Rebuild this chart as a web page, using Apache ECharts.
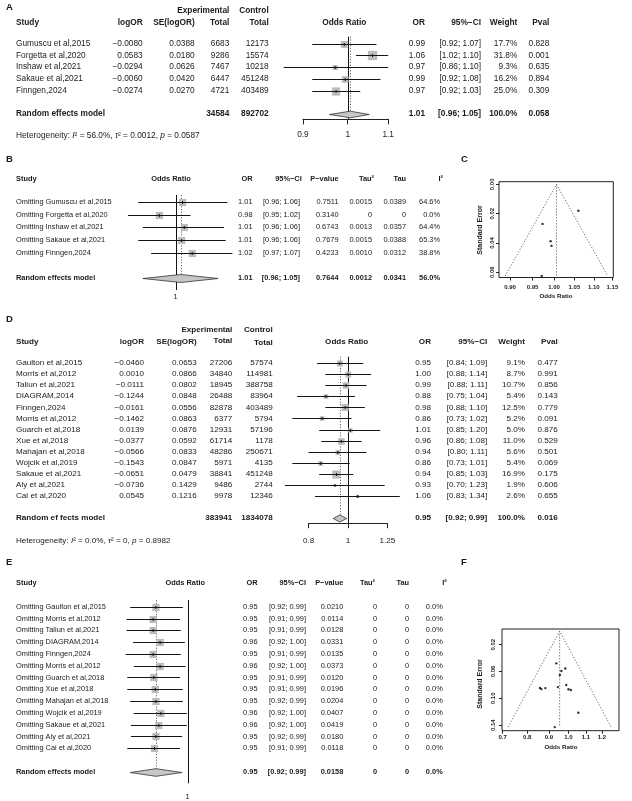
<!DOCTYPE html>
<html><head><meta charset="utf-8">
<script src="https://cdn.jsdelivr.net/npm/echarts@6/dist/echarts.min.js"></script>
<style>html,body{margin:0;padding:0;background:#fff}#c{width:632px;height:801px}</style>
</head><body><div id="c"></div>
<script>
// ---------------- DATA ----------------
// Panel A
const aStudies = ['Gumuscu et al,2015','Forgetta et al,2020','Inshaw et al,2021','Sakaue et al,2021','Finngen,2024'];
const aLogOR = [-0.0080, 0.0583, -0.0294, -0.0060, -0.0274];
const aSE = [0.0388, 0.0180, 0.0626, 0.0420, 0.0270];
const aExpTotal = [6683, 9286, 7467, 6447, 4721];
const aCtrlTotal = [12173, 15574, 10218, 451248, 403489];
const aOR = [0.99, 1.06, 0.97, 0.99, 0.97];
const aLower = [0.92, 1.02, 0.86, 0.92, 0.92];
const aUpper = [1.07, 1.10, 1.10, 1.08, 1.03];
const aWeight = [17.7, 31.8, 9.3, 16.2, 25.0];
const aPval = ['0.828','0.001','0.635','0.894','0.309'];
const aModelTotals = [34584, 892702];
const aModelCI = [1.006, 0.958, 1.052];        // pooled OR, lower, upper (plotted)
const aModelText = ['1.01', '[0.96; 1.05]', '100.0%', '0.058'];
const aTicks = [0.9, 1, 1.1];

// Panel B (leave-one-out of A)
const bOR = [1.008, 0.982, 1.010, 1.007, 1.019];
const bLower = [0.959, 0.948, 0.964, 0.959, 0.973];
const bUpper = [1.060, 1.017, 1.056, 1.058, 1.066];
const bPval = ['0.7511','0.3140','0.6743','0.7679','0.4233'];
const bTau2 = ['0.0015','0','0.0013','0.0015','0.0010'];
const bTau = ['0.0389','0','0.0357','0.0388','0.0312'];
const bI2 = ['64.6%','0.0%','64.4%','65.3%','38.8%'];
const bModel = [1.006, 0.964, 1.049];
const bModelText = ['1.01','[0.96; 1.05]','0.7644','0.0012','0.0341','56.0%'];

// Panel C funnel ticks
const cXTicks = [0.90, 0.95, 1.00, 1.05, 1.10, 1.15];
const cYTicks = [0.00, 0.02, 0.04, 0.06];

// Panel D
const dStudies = ['Gaulton et al,2015','Morris et al,2012','Taliun et al,2021','DIAGRAM,2014','Finngen,2024','Morris et al,2012','Guarch et al,2018','Xue et al,2018','Mahajan et al,2018','Wojcik et al,2019','Sakaue et al,2021','Aly et al,2021','Cai et al,2020'];
const dLogOR = [-0.0460, 0.0010, -0.0111, -0.1244, -0.0161, -0.1462, 0.0139, -0.0377, -0.0566, -0.1543, -0.0651, -0.0736, 0.0545];
const dSE = [0.0653, 0.0866, 0.0802, 0.0848, 0.0556, 0.0863, 0.0876, 0.0592, 0.0833, 0.0847, 0.0479, 0.1429, 0.1216];
const dExpTotal = [27206, 34840, 18945, 26488, 82878, 6377, 12931, 61714, 48286, 5971, 38841, 9486, 9978];
const dCtrlTotal = [57574, 114981, 388758, 83964, 403489, 5794, 57196, 1178, 250671, 4135, 451248, 2744, 12346];
const dOR = ['0.95','1.00','0.99','0.88','0.98','0.86','1.01','0.96','0.94','0.86','0.94','0.93','1.06'];
const dLower = [0.84, 0.88, 0.88, 0.75, 0.88, 0.73, 0.85, 0.86, 0.80, 0.73, 0.85, 0.70, 0.83];
const dUpper = [1.09, 1.14, 1.11, 1.04, 1.10, 1.02, 1.20, 1.08, 1.11, 1.01, 1.03, 1.23, 1.34];
const dWeight = [9.1, 8.7, 10.7, 5.4, 12.5, 5.2, 5.0, 11.0, 5.6, 5.4, 16.9, 1.9, 2.6];
const dPval = ['0.477','0.991','0.856','0.143','0.779','0.091','0.876','0.529','0.501','0.069','0.175','0.606','0.655'];
const dModelTotals = [383941, 1834078];
const dModelCI = [0.954, 0.920, 0.993];
const dModelText = ['0.95','[0.92; 0.99]','100.0%','0.016'];
const dTicks = [0.8, 1, 1.25];

// Panel E (leave-one-out of D)
const eOR = [0.954, 0.950, 0.950, 0.960, 0.950, 0.960, 0.951, 0.953, 0.954, 0.961, 0.958, 0.954, 0.952];
const eLower = [0.918, 0.913, 0.913, 0.922, 0.912, 0.923, 0.914, 0.914, 0.918, 0.923, 0.919, 0.919, 0.914];
const eUpper = [0.993, 0.989, 0.990, 0.996, 0.990, 0.997, 0.989, 0.993, 0.993, 0.999, 0.999, 0.992, 0.989];
const ePval = ['0.0210','0.0114','0.0128','0.0331','0.0135','0.0373','0.0120','0.0196','0.0204','0.0407','0.0419','0.0180','0.0118'];
const eTau2 = ['0','0','0','0','0','0','0','0','0','0','0','0','0'];
const eTau = ['0','0','0','0','0','0','0','0','0','0','0','0','0'];
const eI2 = ['0.0%','0.0%','0.0%','0.0%','0.0%','0.0%','0.0%','0.0%','0.0%','0.0%','0.0%','0.0%','0.0%'];
const eModel = [0.954, 0.918, 0.992];
const eModelText = ['0.95','[0.92; 0.99]','0.0158','0','0','0.0%'];

// Panel F funnel ticks
const fXTicks = [0.7, 0.8, 0.9, 1.0, 1.1, 1.2];
const fYTicks = [0.02, 0.06, 0.10, 0.14];

// ---------------- HELPERS ----------------
const FONT = '"Liberation Sans", Arial, Helvetica, sans-serif';
const INK = '#1a1a1a';
const L = Math.log;
const neg = v => (v < 0 ? '\u2212' + Math.abs(v).toFixed(4) : v.toFixed(4));
const ci = (lo, hi) => '[' + lo.toFixed(2) + '; ' + hi.toFixed(2) + ']';

function tstyle(text, o) {
  o = o || {};
  const al = o.align || 'left';
  return {
    text: text, fill: o.color || INK,
    fontSize: o.size || 8.3, fontFamily: FONT,
    fontWeight: o.bold ? 'bold' : 'normal', fontStyle: o.italic ? 'italic' : 'normal',
    align: al, textAlign: al, verticalAlign: 'middle', textVerticalAlign: 'middle',
    rich: o.rich
  };
}
function gtext(x, y, text, o) {
  o = o || {};
  return { type: 'text', x: x, y: y, rotation: o.rotation || 0, silent: true, z: 10, style: tstyle(text, o) };
}

function tableSeries(idx, cols, nRows, modelRow, size) {
  const data = [];
  for (let i = 0; i < nRows; i++) data.push([0, i, i]);
  data.push([0, modelRow, -1]);
  return {
    type: 'custom', xAxisIndex: idx, yAxisIndex: idx, silent: true, clip: false, z: 5, animation: false,
    data: data,
    renderItem: function (params, api) {
      const row = api.value(1), k = api.value(2);
      const y = api.coord([0, row])[1];
      const ch = [];
      cols.forEach(function (c) {
        const t = k < 0 ? c.model : c.values[k];
        if (t === undefined || t === null || t === '') return;
        ch.push({ type: 'text', x: c.x, y: y, style: tstyle(String(t), { align: c.align, size: size, bold: k < 0 }) });
      });
      return { type: 'group', children: ch };
    }
  };
}

function forestSeries(idx, est, lo, hi, sizes) {
  const data = est.map((v, i) => [v, i, lo[i], hi[i], sizes[i]]);
  return {
    type: 'custom', xAxisIndex: idx, yAxisIndex: idx, silent: true, clip: false, z: 4, animation: false,
    data: data,
    renderItem: function (params, api) {
      const row = api.value(1), s = api.value(4);
      const c = api.coord([api.value(0), row]);
      const l = api.coord([api.value(2), row]);
      const h = api.coord([api.value(3), row]);
      const y = Math.round(c[1]) + 0.5;
      return { type: 'group', children: [
        { type: 'rect', shape: { x: c[0] - s / 2, y: y - s / 2, width: s, height: s }, style: { fill: '#bcbcbc' } },
        { type: 'line', shape: { x1: l[0], y1: y, x2: h[0], y2: y }, style: { stroke: '#151515', lineWidth: 1 } },
        { type: 'line', shape: { x1: c[0], y1: y - 1.5, x2: c[0], y2: y + 1.5 }, style: { stroke: '#151515', lineWidth: 1 } }
      ]};
    }
  };
}

function diamondSeries(idx, model, row, halfH) {
  return {
    type: 'custom', xAxisIndex: idx, yAxisIndex: idx, silent: true, clip: false, z: 4, animation: false,
    data: [[L(model[0]), row, L(model[1]), L(model[2]), halfH]],
    renderItem: function (params, api) {
      const r = api.value(1), hh = api.value(4);
      const c = api.coord([api.value(0), r]);
      const l = api.coord([api.value(2), r]);
      const h = api.coord([api.value(3), r]);
      const y = Math.round(c[1]) + 0.5;
      return { type: 'polygon', shape: { points: [[l[0], y], [c[0], y - hh], [h[0], y], [c[0], y + hh]] },
        style: { fill: '#c6c6c6', stroke: '#333', lineWidth: 0.8 } };
    }
  };
}

// reference lines: [x, rowStart, rowEnd, dotted]
function refSeries(idx, items) {
  return {
    type: 'custom', xAxisIndex: idx, yAxisIndex: idx, silent: true, clip: false, z: 3, animation: false,
    data: items,
    renderItem: function (params, api) {
      const a = api.coord([api.value(0), api.value(1)]);
      const b = api.coord([api.value(0), api.value(2)]);
      const x = Math.round(a[0]) + 0.5;
      const dotted = api.value(3) > 0;
      return { type: 'line', shape: { x1: x, y1: a[1], x2: x, y2: b[1] },
        style: { stroke: dotted ? '#666' : '#111', lineWidth: 1, lineDash: dotted ? [1.2, 1.6] : null } };
    }
  };
}

// ---------------- LAYOUT ----------------
const grids = [
  { left: 347.7 - 425 * 0.105361, top: 36.65, width: 425 * 0.200671, height: 82.25 },  // A
  { left: 175.5 - 890 * 0.06, top: 195, width: 890 * 0.14, height: 95 },               // B
  { left: 348 - 177 * 0.223144, top: 356.7, width: 177 * 0.446287, height: 167 },      // D
  { left: 187.5 - 670 * 0.10, top: 600, width: 670 * 0.13, height: 183.3 },            // E
  { left: 499, top: 181.7, width: 114.3, height: 95.8, show: true, borderColor: '#222', borderWidth: 1 }, // C
  { left: 502, top: 629, width: 117, height: 101.7, show: true, borderColor: '#222', borderWidth: 1 }      // F
].map(g => Object.assign({ containLabel: false, outerBoundsMode: 'none' }, g));

const rowRanges = [[-0.6, 6.4], [-0.55, 6.93], [-0.57, 14.5], [-0.57, 14.97]];

function forestX(idx, min, max, ticks, showLine, margin, size, tickLen) {
  return {
    gridIndex: idx, type: 'value', min: min, max: max, position: 'bottom',
    axisLine: { show: showLine, onZero: false, lineStyle: { color: '#222', width: 1 } },
    axisTick: { show: showLine, customValues: ticks.map(L), length: tickLen, lineStyle: { color: '#222', width: 1 } },
    axisLabel: { show: true, customValues: ticks.map(L), margin: margin, fontSize: size, fontFamily: FONT, color: INK,
      formatter: v => String(Math.round(Math.exp(v) * 100) / 100) },
    splitLine: { show: false }
  };
}
const xAxes = [
  forestX(0, L(0.9), L(1.1), aTicks, true, 12.3, 8.3, 5.5),
  forestX(1, -0.06, 0.08, [1], false, 3, 7.4, 0),
  forestX(2, L(0.8), L(1.25), dTicks, true, 13, 8.1, 4.5),
  forestX(3, -0.10, 0.03, [1], false, 9.7, 7.4, 0),
  { gridIndex: 4, type: 'value', min: -0.1316, max: 0.1419, position: 'bottom',
    axisLine: { show: false, onZero: false }, splitLine: { show: false },
    axisTick: { show: true, customValues: cXTicks.map(L), length: 3, lineStyle: { color: '#222' } },
    axisLabel: { customValues: cXTicks.map(L), margin: 7, fontSize: 6, fontWeight: 'bold', fontFamily: FONT, color: INK,
      formatter: v => Math.exp(v).toFixed(2) } },
  { gridIndex: 5, type: 'value', min: -0.3603, max: 0.2755, position: 'bottom',
    axisLine: { show: false, onZero: false }, splitLine: { show: false },
    axisTick: { show: true, customValues: fXTicks.map(L), length: 3, lineStyle: { color: '#222' } },
    axisLabel: { customValues: fXTicks.map(L), margin: 3.5, fontSize: 6, fontWeight: 'bold', fontFamily: FONT, color: INK,
      formatter: v => Math.exp(v).toFixed(1) } }
];
const yAxes = rowRanges.map((r, i) => ({ gridIndex: i, type: 'value', inverse: true, min: r[0], max: r[1], show: false }))
  .concat([
    { gridIndex: 4, type: 'value', inverse: true, min: -0.0018, max: 0.0636, position: 'left',
      axisLine: { show: false, onZero: false }, splitLine: { show: false },
      axisTick: { show: true, customValues: cYTicks, length: 3, lineStyle: { color: '#222' } },
      axisLabel: { customValues: cYTicks, rotate: 90, margin: 4, fontSize: 6, fontWeight: 'bold', fontFamily: FONT, color: INK,
        formatter: v => v.toFixed(2) } },
    { gridIndex: 5, type: 'value', inverse: true, min: -0.0033, max: 0.1483, position: 'left',
      axisLine: { show: false, onZero: false }, splitLine: { show: false },
      axisTick: { show: true, customValues: fYTicks, length: 3, lineStyle: { color: '#222' } },
      axisLabel: { customValues: fYTicks, rotate: 90, margin: 5.5, fontSize: 6, fontWeight: 'bold', fontFamily: FONT, color: INK,
        formatter: v => v.toFixed(2) } }
  ]);

// ---------------- SERIES ----------------
const series = [];
// Panel A
series.push(refSeries(0, [[0, -0.6, 6.4, 0], [L(aModelCI[0]), -0.6, 6, 1]]));
series.push(forestSeries(0, aLogOR, aLower.map(L), aUpper.map(L), aWeight.map(w => 1.65 * Math.sqrt(w))));
series.push(diamondSeries(0, aModelCI, 6, 3.3));
series.push(tableSeries(0, [
  { x: 16, align: 'left', values: aStudies, model: 'Random effects model' },
  { x: 142.7, align: 'right', values: aLogOR.map(neg), model: '' },
  { x: 194.7, align: 'right', values: aSE.map(v => v.toFixed(4)), model: '' },
  { x: 229.3, align: 'right', values: aExpTotal, model: aModelTotals[0] },
  { x: 268.7, align: 'right', values: aCtrlTotal, model: aModelTotals[1] },
  { x: 425, align: 'right', values: aOR.map(v => v.toFixed(2)), model: aModelText[0] },
  { x: 481, align: 'right', values: aLower.map((v, i) => ci(v, aUpper[i])), model: aModelText[1] },
  { x: 517.3, align: 'right', values: aWeight.map(v => v.toFixed(1) + '%'), model: aModelText[2] },
  { x: 549.3, align: 'right', values: aPval, model: aModelText[3] }
], aStudies.length, 6, 8.3));

// Panel B
series.push(refSeries(1, [[0, -0.55, 6.93, 0], [L(bModel[0]), -0.55, 6, 1]]));
series.push(forestSeries(1, bOR.map(L), bLower.map(L), bUpper.map(L), bOR.map(() => 7.2)));
series.push(diamondSeries(1, bModel, 6, 4));
series.push(tableSeries(1, [
  { x: 16, align: 'left', values: aStudies.map(s => 'Omitting ' + s), model: 'Random effects model' },
  { x: 252.5, align: 'right', values: bOR.map(v => v.toFixed(2)), model: bModelText[0] },
  { x: 300, align: 'right', values: bLower.map((v, i) => ci(v, bUpper[i])), model: bModelText[1] },
  { x: 338.5, align: 'right', values: bPval, model: bModelText[2] },
  { x: 372, align: 'right', values: bTau2, model: bModelText[3] },
  { x: 406, align: 'right', values: bTau, model: bModelText[4] },
  { x: 440, align: 'right', values: bI2, model: bModelText[5] }
], aStudies.length, 6, 7.4));

// Panel D
series.push(refSeries(2, [[0, -0.57, 14.5, 0], [L(dModelCI[0]), -0.57, 14, 1]]));
series.push(forestSeries(2, dLogOR, dLower.map(L), dUpper.map(L), dWeight.map(w => 2.0 * Math.sqrt(w))));
series.push(diamondSeries(2, dModelCI, 14, 3.5));
series.push(tableSeries(2, [
  { x: 16, align: 'left', values: dStudies, model: 'Random ef fects model' },
  { x: 144, align: 'right', values: dLogOR.map(neg), model: '' },
  { x: 196.7, align: 'right', values: dSE.map(v => v.toFixed(4)), model: '' },
  { x: 232.3, align: 'right', values: dExpTotal, model: dModelTotals[0] },
  { x: 272.7, align: 'right', values: dCtrlTotal, model: dModelTotals[1] },
  { x: 431, align: 'right', values: dOR, model: dModelText[0] },
  { x: 487.3, align: 'right', values: dLower.map((v, i) => ci(v, dUpper[i])), model: dModelText[1] },
  { x: 525, align: 'right', values: dWeight.map(v => v.toFixed(1) + '%'), model: dModelText[2] },
  { x: 557.7, align: 'right', values: dPval, model: dModelText[3] }
], dStudies.length, 14, 8.1));

// Panel E
series.push(refSeries(3, [[0, -0.57, 14.97, 0], [L(eModel[0]), -0.57, 14, 1]]));
series.push(forestSeries(3, eOR.map(L), eLower.map(L), eUpper.map(L), eOR.map(() => 7.2)));
series.push(diamondSeries(3, eModel, 14, 3.8));
series.push(tableSeries(3, [
  { x: 16, align: 'left', values: dStudies.map(s => 'Omitting ' + s), model: 'Random effects model' },
  { x: 257.5, align: 'right', values: eOR.map(v => v.toFixed(2)), model: eModelText[0] },
  { x: 306, align: 'right', values: eLower.map((v, i) => ci(v, eUpper[i])), model: eModelText[1] },
  { x: 343.3, align: 'right', values: ePval, model: eModelText[2] },
  { x: 377, align: 'right', values: eTau2, model: eModelText[3] },
  { x: 409, align: 'right', values: eTau, model: eModelText[4] },
  { x: 442.7, align: 'right', values: eI2, model: eModelText[5] }
], dStudies.length, 14, 7.4));

// Funnels C and F
function funnelSeries(idx, logOR, se, pooled) {
  const te = L(pooled), smax = Math.max.apply(null, se);
  const dotted = { color: '#555', width: 0.9, type: [1.2, 1.8] };
  return [
    { type: 'line', xAxisIndex: idx, yAxisIndex: idx, silent: true, symbol: 'none', animation: false,
      data: [[te - 1.96 * smax, smax], [te, 0], [te + 1.96 * smax, smax]], lineStyle: dotted },
    { type: 'line', xAxisIndex: idx, yAxisIndex: idx, silent: true, symbol: 'none', animation: false,
      data: [[te, 0], [te, smax]], lineStyle: dotted },
    { type: 'scatter', xAxisIndex: idx, yAxisIndex: idx, silent: true, animation: false,
      symbol: 'circle', symbolSize: 2.4, itemStyle: { color: '#000' },
      data: logOR.map((v, i) => [v, se[i]]) }
  ];
}
funnelSeries(4, aLogOR, aSE, aModelCI[0]).forEach(s => series.push(s));
funnelSeries(5, dLogOR, dSE, dModelCI[0]).forEach(s => series.push(s));

// ---------------- GRAPHIC TEXT ----------------
const H = [];
const bold = (x, y, t, al, size) => gtext(x, y, t, { bold: true, align: al, size: size });
// letters
H.push(bold(6, 7, 'A', 'left', 9.5), bold(6, 159, 'B', 'left', 9.5), bold(461, 159, 'C', 'left', 9.5),
       bold(6, 319, 'D', 'left', 9.5), bold(6, 562, 'E', 'left', 9.5), bold(461, 562, 'F', 'left', 9.5));
// A headers
H.push(bold(229.3, 11, 'Experimental', 'right'), bold(268.7, 11, 'Control', 'right'),
  bold(16, 22.3, 'Study', 'left'), bold(142.7, 22.3, 'logOR', 'right'), bold(194.7, 22.3, 'SE(logOR)', 'right'),
  bold(229.3, 22.3, 'Total', 'right'), bold(268.7, 22.3, 'Total', 'right'), bold(344.3, 22.3, 'Odds Ratio', 'center'),
  bold(425, 22.3, 'OR', 'right'), bold(481, 22.3, '95%\u2212CI', 'right'), bold(517.3, 22.3, 'Weight', 'right'),
  bold(549.3, 22.3, 'Pval', 'right'));
const hetRich = s => ({ i: { fontStyle: 'italic', fontSize: s, fontFamily: FONT, fill: INK } });
H.push(gtext(16, 135.5, 'Heterogeneity: {i|I}\u00b2 = 56.0%, {i|\u03c4}\u00b2 = 0.0012, {i|p} = 0.0587', { size: 8.3, rich: hetRich(8.3) }));
// B headers
H.push(bold(16, 179, 'Study', 'left', 7.4), bold(171, 179, 'Odds Ratio', 'center', 7.4), bold(252.7, 179, 'OR', 'right', 7.4),
  bold(301.7, 179, '95%\u2212CI', 'right', 7.4), bold(338.5, 179, 'P\u2212value', 'right', 7.4),
  bold(374, 179, 'Tau\u00b2', 'right', 7.4), bold(406, 179, 'Tau', 'right', 7.4), bold(443, 179, 'I\u00b2', 'right', 7.4));
// D headers
H.push(bold(232.3, 330, 'Experimental', 'right', 8.1), bold(272.7, 330, 'Control', 'right', 8.1),
  bold(16, 341.3, 'Study', 'left', 8.1), bold(144, 341.3, 'logOR', 'right', 8.1), bold(196.7, 341.3, 'SE(logOR)', 'right', 8.1),
  bold(232.3, 340.5, 'Total', 'right', 8.1), bold(272.7, 342.7, 'Total', 'right', 8.1), bold(346.7, 341.3, 'Odds Ratio', 'center', 8.1),
  bold(431, 341.3, 'OR', 'right', 8.1), bold(487.3, 341.3, '95%\u2212CI', 'right', 8.1), bold(525, 341.3, 'Weight', 'right', 8.1),
  bold(557.7, 341.3, 'Pval', 'right', 8.1));
H.push(gtext(16, 540.7, 'Heterogeneity: {i|I}\u00b2 = 0.0%, {i|\u03c4}\u00b2 = 0, {i|p} = 0.8982', { size: 8.1, rich: hetRich(8.1) }));
// E headers
H.push(bold(16, 582.7, 'Study', 'left', 7.4), bold(185.3, 582.7, 'Odds Ratio', 'center', 7.4), bold(257.7, 582.7, 'OR', 'right', 7.4),
  bold(306, 582.7, '95%\u2212CI', 'right', 7.4), bold(343.3, 582.7, 'P\u2212value', 'right', 7.4),
  bold(375, 582.7, 'Tau\u00b2', 'right', 7.4), bold(409, 582.7, 'Tau', 'right', 7.4), bold(446.7, 582.7, 'I\u00b2', 'right', 7.4));
// funnel titles
H.push(bold(556, 296.7, 'Odds Ratio', 'center', 6.2), gtext(480, 230, 'Standard Error', { bold: true, align: 'center', size: 7, rotation: Math.PI / 2 }));
H.push(bold(561, 747.3, 'Odds Ratio', 'center', 6.2), gtext(480, 684, 'Standard Error', { bold: true, align: 'center', size: 7, rotation: Math.PI / 2 }));

const chart = echarts.init(document.getElementById('c'), null, { renderer: 'canvas' });
chart.setOption({
  backgroundColor: '#fff',
  animation: false,
  grid: grids,
  xAxis: xAxes,
  yAxis: yAxes,
  series: series,
  graphic: { elements: H }
});
</script></body></html>
